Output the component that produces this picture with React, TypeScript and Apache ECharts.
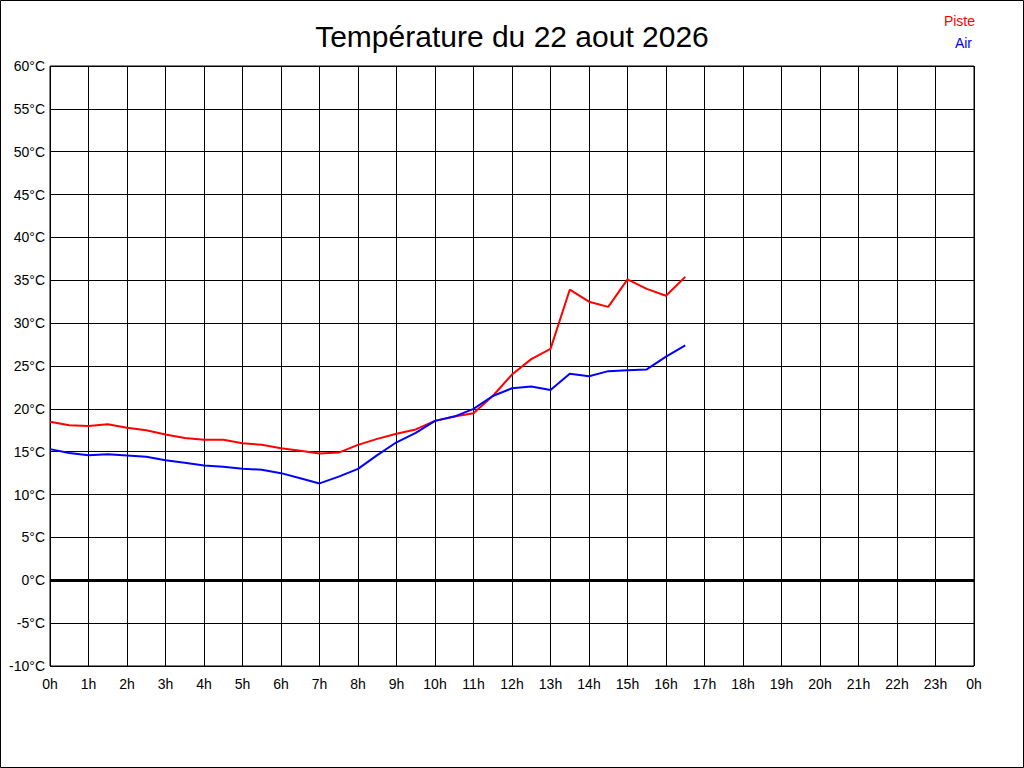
import React, { useEffect, useRef } from "react";
import * as echarts from "echarts";

const TITLE = "Température du 22 aout 2026";
const SERIES_NAMES = ["Piste", "Air"];
const SERIES_COLORS = ["#ff0000", "#0000ff"];

// hours of the day (half-hour samples)
const hours = [
  0, 0.5, 1, 1.5, 2, 2.5, 3, 3.5, 4, 4.5, 5, 5.5, 6, 6.5, 7, 7.5, 8, 8.5,
  9, 9.5, 10, 10.5, 11, 11.5, 12, 12.5, 13, 13.5, 14, 14.5, 15, 15.5, 16, 16.5,
];

const piste = [
  18.5, 18.1, 18.0, 18.2, 17.8, 17.5, 17.0, 16.6, 16.4, 16.4, 16.0, 15.8,
  15.4, 15.1, 14.8, 14.9, 15.8, 16.5, 17.1, 17.6, 18.6, 19.1, 19.5, 21.5,
  24.0, 25.8, 27.0, 33.9, 32.5, 31.9, 35.1, 34.0, 33.2, 35.4,
];

const air = [
  15.3, 14.85, 14.6, 14.7, 14.55, 14.4, 14.0, 13.7, 13.4, 13.25, 13.0, 12.9,
  12.5, 11.9, 11.3, 12.1, 13.0, 14.6, 16.1, 17.2, 18.6, 19.1, 20.0, 21.5,
  22.4, 22.6, 22.2, 24.1, 23.8, 24.4, 24.5, 24.6, 26.1, 27.4,
];

const X_MIN = 0;
const X_MAX = 24;
const Y_MIN = -10;
const Y_MAX = 60;
const Y_STEP = 5;

const FONT = "'Liberation Sans', Arial, sans-serif";

export default function App() {
  const ref = useRef<HTMLDivElement>(null);

  useEffect(() => {
    document.body.style.margin = "0";
    if (!ref.current) return;
    const chart = echarts.init(ref.current, null, { renderer: "svg" });
    const pair = (xs: number[], ys: number[]) => xs.map((x, i) => [x, ys[i]]);
    chart.setOption({
      animation: false,
      backgroundColor: "#ffffff",
      textStyle: { fontFamily: FONT },
      title: {
        text: TITLE,
        left: "center",
        top: 16,
        textStyle: { fontFamily: FONT, fontSize: 30, fontWeight: "normal", color: "#000" },
      },
      legend: [
        {
          data: [{ name: SERIES_NAMES[0], textStyle: { color: SERIES_COLORS[0] } }],
          right: 38,
          top: 9,
          itemWidth: 0,
          itemHeight: 0,
          align: "right",
          selectedMode: false,
          textStyle: { fontFamily: FONT, fontSize: 14 },
        },
        {
          data: [{ name: SERIES_NAMES[1], textStyle: { color: SERIES_COLORS[1] } }],
          right: 41,
          top: 31,
          itemWidth: 0,
          itemHeight: 0,
          align: "right",
          selectedMode: false,
          textStyle: { fontFamily: FONT, fontSize: 14 },
        },
      ],
      grid: {
        left: 50,
        right: 50,
        top: 66,
        bottom: 102,
        show: true,
        borderColor: "#000",
        borderWidth: 1,
        backgroundColor: "transparent",
      },
      xAxis: {
        type: "value",
        min: X_MIN,
        max: X_MAX,
        interval: 1,
        axisLine: { show: false },
        axisTick: { show: false },
        splitLine: { show: true, lineStyle: { color: "#000", width: 1 } },
        axisLabel: {
          margin: 11,
          fontSize: 14,
          color: "#000",
          fontFamily: FONT,
          formatter: (v: number) => `${v % 24}h`,
        },
      },
      yAxis: {
        type: "value",
        min: Y_MIN,
        max: Y_MAX,
        interval: Y_STEP,
        axisLine: { show: false },
        axisTick: { show: false },
        splitLine: { show: true, lineStyle: { color: "#000", width: 1 } },
        axisLabel: {
          margin: 5,
          fontSize: 14,
          color: "#000",
          fontFamily: FONT,
          formatter: "{value}°C",
        },
      },
      graphic: [
        {
          type: "rect",
          shape: { x: 0.5, y: 0.5, width: 1023, height: 767 },
          style: { fill: "none", stroke: "#000", lineWidth: 1 },
          silent: true,
          z: 100,
        },
      ],
      series: [
        {
          name: SERIES_NAMES[0],
          type: "line",
          data: pair(hours, piste),
          showSymbol: false,
          symbol: "none",
          lineStyle: { color: SERIES_COLORS[0], width: 2 },
          itemStyle: { color: SERIES_COLORS[0] },
          z: 3,
          markLine: {
            silent: true,
            symbol: ["none", "none"],
            label: { show: false },
            lineStyle: { color: "#000", width: 3, type: "solid" },
            data: [{ yAxis: 0 }],
          },
        },
        {
          name: SERIES_NAMES[1],
          type: "line",
          data: pair(hours, air),
          showSymbol: false,
          symbol: "none",
          lineStyle: { color: SERIES_COLORS[1], width: 2 },
          itemStyle: { color: SERIES_COLORS[1] },
          z: 4,
        },
      ],
    });
    return () => chart.dispose();
  }, []);

  return <div ref={ref} style={{ width: 1024, height: 768 }} />;
}
